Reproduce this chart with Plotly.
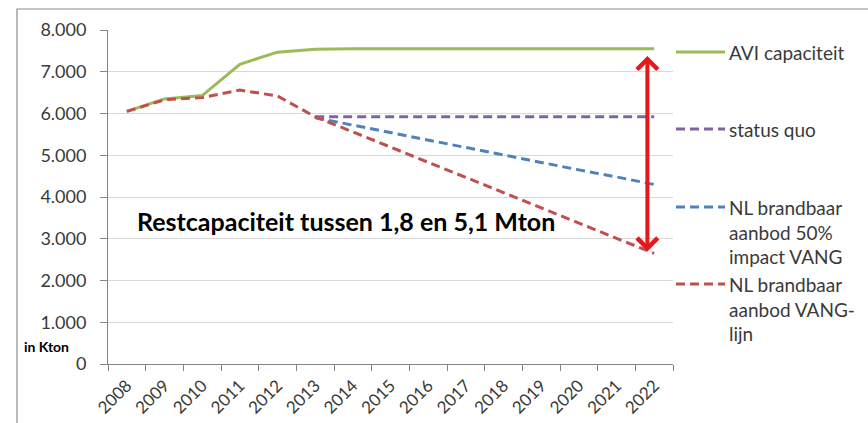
import plotly.graph_objects as go

years = ["2008", "2009", "2010", "2011", "2012", "2013", "2014", "2015",
         "2016", "2017", "2018", "2019", "2020", "2021", "2022"]
avi_capaciteit = [6050, 6350, 6430, 7180, 7470, 7540, 7550, 7550,
                  7550, 7550, 7550, 7550, 7550, 7550, 7550]
status_quo = [None, None, None, None, None, 5920, 5920, 5920,
              5920, 5920, 5920, 5920, 5920, 5920, 5920]
nl_50pct = [None, None, None, None, None, 5900, 5720, 5550,
            5370, 5190, 5010, 4830, 4650, 4480, 4300]
nl_vang = [6050, 6330, 6380, 6560, 6420, 5920, 5560, 5190,
           4830, 4470, 4100, 3740, 3380, 3010, 2650]

series_names = ["AVI capaciteit", "status quo",
                "NL brandbaar<br>aanbod 50%<br>impact VANG",
                "NL brandbaar<br>aanbod VANG-<br>lijn"]
series_values = [avi_capaciteit, status_quo, nl_50pct, nl_vang]
series_colors = ["#9BBB59", "#8064A2", "#4F81BD", "#C0504D"]
series_dash = ["solid", "9px,5px", "9px,5px", "9px,5px"]

arrow_top = 7380
arrow_bottom = 2660
annotation_text = "Restcapaciteit tussen 1,8 en 5,1 Mton"
y_unit = "in Kton"

W, H = 868, 423
L, R, T, B = 108, 195, 30, 59
PW, PH = W - L - R, H - T - B


def px(x):
    """window pixel x -> paper x"""
    return (x - L) / PW


def py(y):
    """window pixel y -> paper y"""
    return (T + PH - y) / PH


FONT = "Lato"
TXT = "#3a3a3a"

fig = go.Figure()
for name, vals, col, dash in zip(series_names, series_values, series_colors, series_dash):
    fig.add_trace(go.Scatter(x=years, y=vals, mode="lines", name=name,
                             line=dict(color=col, width=3, dash=dash),
                             showlegend=False, connectgaps=False))

shapes = [
    # outer chart frame
    dict(type="rect", xref="paper", yref="paper",
         x0=px(17), x1=px(890), y0=py(450), y1=py(9),
         line=dict(color="#8c8c8c", width=1.2), fillcolor="rgba(0,0,0,0)", layer="below"),
]
annotations = []

# manual legend (Excel-style: symbol aligned with first text line)
legend_y = [52, 129, 207, 284]
for name, col, dash, ly in zip(series_names, series_colors, series_dash, legend_y):
    shapes.append(dict(type="line", xref="paper", yref="paper",
                       x0=px(676), x1=px(725), y0=py(ly), y1=py(ly),
                       line=dict(color=col, width=3, dash=dash)))
    annotations.append(dict(xref="paper", yref="paper", x=px(727), y=py(ly - 13),
                            xanchor="left", yanchor="top", align="left",
                            text=name, showarrow=False,
                            font=dict(family=FONT, size=19, color=TXT)))

# double-headed arrow
annotations.append(dict(x=13.82, y=arrow_top, ax=13.82, ay=arrow_bottom,
                        xref="x", yref="y", axref="x", ayref="y",
                        text="", showarrow=True, arrowhead=4, startarrowhead=4,
                        arrowside="end+start", arrowwidth=4, arrowsize=1.0,
                        startarrowsize=1.0, arrowcolor="#e3191c",
                        standoff=0, startstandoff=0))

annotations.append(dict(xref="paper", yref="paper", x=px(346), y=py(221),
                        xanchor="center", yanchor="middle",
                        text="<b>" + annotation_text + "</b>", showarrow=False,
                        font=dict(family=FONT, size=25, color="#000000")))

annotations.append(dict(xref="paper", yref="paper", x=px(22), y=py(346),
                        xanchor="left", yanchor="middle",
                        text="<b>" + y_unit + "</b>", showarrow=False,
                        font=dict(family=FONT, size=14, color="#000000")))

fig.update_layout(
    width=W, height=H,
    margin=dict(l=L, r=R, t=T, b=B, pad=0, autoexpand=False),
    paper_bgcolor="white", plot_bgcolor="white",
    separators=",.",
    font=dict(family=FONT, color=TXT),
    shapes=shapes, annotations=annotations,
    xaxis=dict(type="category", range=[-0.5, 14.5], tickson="boundaries",
               ticks="outside", ticklen=6, tickcolor="#868686",
               showline=True, linecolor="#868686", linewidth=1,
               showgrid=False, tickangle=-45, ticklabelstandoff=4,
               automargin=False,
               tickfont=dict(family=FONT, size=17, color=TXT)),
    yaxis=dict(range=[0, 8000], dtick=1000, tickformat=",",
               ticks="outside", ticklen=7, tickcolor="#868686",
               showline=True, linecolor="#868686", linewidth=1,
               gridcolor="#d9d9d9", zeroline=False, ticklabelstandoff=10,
               automargin=False,
               tickfont=dict(family=FONT, size=18, color=TXT)),
)

fig.write_html("out.html",
               config={"displayModeBar": False},
               post_script="document.body.style.margin='0px';"
                           "document.body.style.overflow='hidden';")
